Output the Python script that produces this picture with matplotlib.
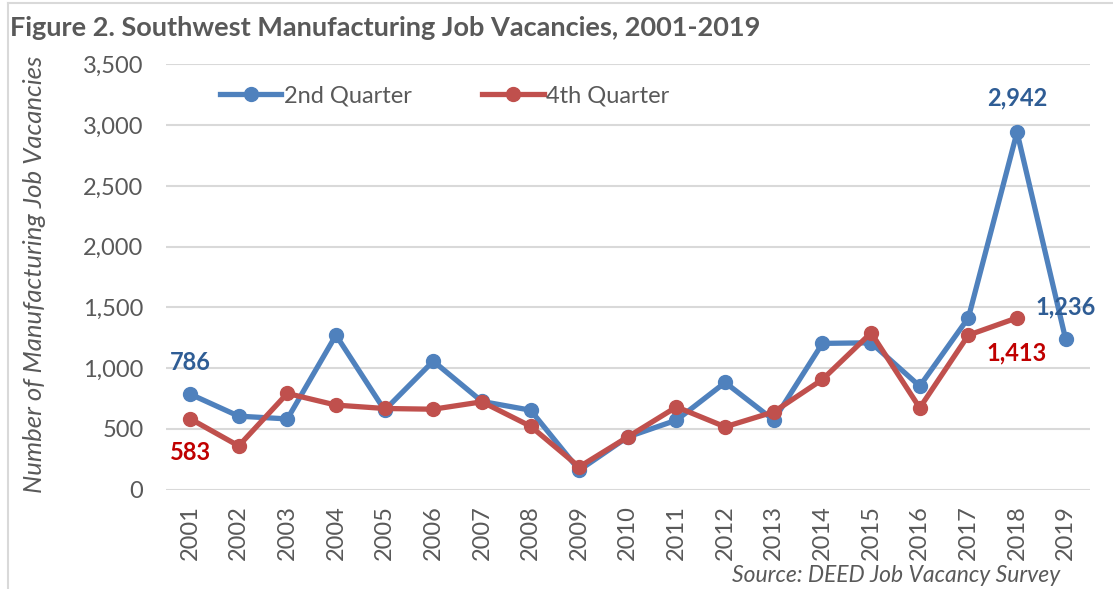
import matplotlib
matplotlib.use("Agg")
import matplotlib.pyplot as plt
from matplotlib.ticker import FuncFormatter, MultipleLocator
from matplotlib.lines import Line2D

years = list(range(2001, 2020))
q2 = [786, 604, 581, 1271, 653, 1057, 725, 653, 159, 433, 571, 881, 571, 1203, 1208, 851, 1414, 2942, 1236]
q4 = [583, 359, 791, 695, 667, 661, 722, 521, 186, 433, 680, 516, 639, 906, 1290, 672, 1271, 1413]
year_labels = [str(y) for y in years]

BLUE = "#4F81BD"
RED = "#C0504D"
BLUE_TXT = "#2F5D95"
RED_TXT = "#C00000"
GRAY = "#595959"
FONT = "Lato"

plt.rcParams["font.family"] = [FONT, "DejaVu Sans"]

W, H = 1113, 589
fig = plt.figure(figsize=(W / 100, H / 100), dpi=100)
ax = fig.add_axes([165.7 / W, 1 - 489.5 / H, (1090 - 165.7) / W, (489.5 - 64.4) / H])

x2 = list(range(len(q2)))
x4 = list(range(len(q4)))
ax.plot(x2, q2, color=BLUE, lw=3.8, marker="o", ms=10, label="2nd Quarter", zorder=3)
ax.plot(x4, q4, color=RED, lw=3.8, marker="o", ms=10, label="4th Quarter", zorder=4)

ax.set_xlim(-0.5, len(years) - 0.5)
ax.set_ylim(0, 3500)
ax.yaxis.set_major_locator(MultipleLocator(500))
ax.yaxis.set_major_formatter(FuncFormatter(lambda v, p: f"{int(v):,}"))
ax.set_xticks(range(len(years)))
ax.set_xticklabels(year_labels, rotation=90)
ax.tick_params(axis="both", length=0, colors=GRAY, labelsize=17)
ax.tick_params(axis="y", pad=16)
ax.tick_params(axis="x", pad=11)
for s in ax.spines.values():
    s.set_visible(False)
ax.grid(axis="y", color="#D9D9D9", lw=1.5, zorder=0)
ax.set_axisbelow(True)

ax.set_ylabel("Number of Manufacturing Job Vacancies", fontsize=18.5, color=GRAY,
              style="italic", labelpad=0)
ax.yaxis.set_label_coords((46 - 165.7) / (1090 - 165.7), 0.505)

# data labels
lab_kw = dict(fontsize=17, fontweight="bold", ha="center", va="center",
              textcoords="offset pixels")
ax.annotate(f"{q2[0]:,}", (x2[0], q2[0]), xytext=(0, 32), color=BLUE_TXT, **lab_kw)
ax.annotate(f"{q4[0]:,}", (x4[0], q4[0]), xytext=(0, -34), color=RED_TXT, **lab_kw)
ax.annotate(f"{q2[17]:,}", (x2[17], q2[17]), xytext=(0, 34), color=BLUE_TXT, **lab_kw)
ax.annotate(f"{q2[18]:,}", (x2[18], q2[18]), xytext=(0, 32), color=BLUE_TXT, **lab_kw)
ax.annotate(f"{q4[17]:,}", (x4[17], q4[17]), xytext=(0, -35), color=RED_TXT, **lab_kw)

leg = ax.legend(loc="upper left", bbox_to_anchor=((220 - 165.7) / (1090 - 165.7), 1 - (85 - 64.4) / (489.5 - 64.4)),
                ncol=2, frameon=False, fontsize=17, handlelength=2.6, handletextpad=0.1,
                columnspacing=3.0, borderaxespad=0, borderpad=0)
for t in leg.get_texts():
    t.set_color(GRAY)

# title
title = fig.text(10 / W, 1 - 28 / H, "Figure 2. Southwest Manufacturing Job Vacancies, 2001-2019",
                 fontsize=18, fontweight="bold", color=GRAY, ha="left", va="center")
fig.canvas.draw()
r = fig.canvas.get_renderer()
bb = title.get_window_extent(r)
title.set_fontsize(18 * (755 / bb.width))

src = fig.text(1060 / W, 1 - 575 / H, "Source: DEED Job Vacancy Survey", fontsize=16.5,
               style="italic", color=GRAY, ha="right", va="center")

# frame
fig.add_artist(Line2D([8 / W, 1.0], [1 - 3 / H, 1 - 3 / H], color="#D9D9D9", lw=1.5))
fig.add_artist(Line2D([8 / W, 8 / W], [0, 1 - 3 / H], color="#D9D9D9", lw=1.5))

fig.savefig("out.png", dpi=100)
